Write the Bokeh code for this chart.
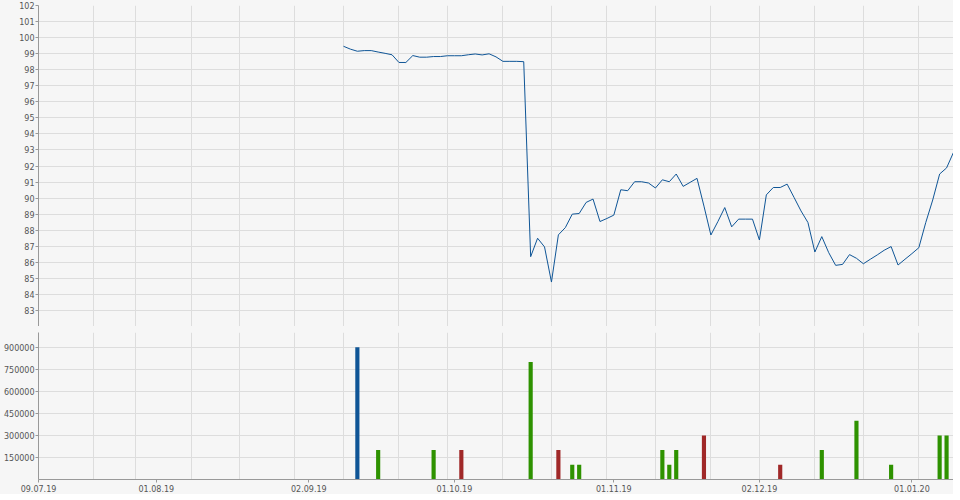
import pandas as pd
from bokeh.plotting import figure
from bokeh.layouts import column
from bokeh.models import Range1d, FixedTicker, BasicTickFormatter, ColumnDataSource
from bokeh.embed import file_html
from bokeh.resources import INLINE

# ---------------- data ----------------
axis_start = "2019-07-09"
axis_end = "2020-01-09"

price_start = "2019-09-09"
price_values = [
    99.46, 99.28, 99.15, 99.19, 99.19, 99.10, 99.02, 98.93, 98.45, 98.45,
    98.88, 98.78, 98.78, 98.82, 98.82, 98.87, 98.87, 98.87, 98.93, 98.98,
    98.92, 98.99, 98.80, 98.52, 98.52, 98.52, 98.50, 86.35, 87.50, 86.96,
    84.77, 87.71, 88.16, 89.00, 89.04, 89.73, 89.94, 88.54, 88.73, 88.94,
    90.52, 90.46, 91.02, 91.02, 90.94, 90.63, 91.14, 91.02, 91.50, 90.73,
    90.98, 91.23, 89.50, 87.70, 88.53, 89.41, 88.21, 88.69, 88.69, 88.69,
    87.39, 90.20, 90.66, 90.66, 90.87, 90.04, 89.20, 88.48, 86.64, 87.60,
    86.60, 85.81, 85.87, 86.48, 86.25, 85.91, 86.19, 86.46, 86.75, 86.98,
    85.83, 86.19, 86.54, 86.91, 88.48, 89.88, 91.50, 91.88, 92.85,
]

vol_dates = ["2019-09-11", "2019-09-16", "2019-09-26", "2019-10-02", "2019-10-16",
             "2019-10-22", "2019-10-24", "2019-10-25", "2019-11-12", "2019-11-13",
             "2019-11-14", "2019-11-20", "2019-12-05", "2019-12-13", "2019-12-20",
             "2019-12-27", "2020-01-07", "2020-01-08"]
vol_values = [900000, 200000, 200000, 200000, 800000,
              200000, 100000, 100000, 200000, 100000,
              200000, 300000, 100000, 200000, 400000,
              100000, 300000, 300000]
vol_kind = ["first", "up", "up", "down", "up",
            "down", "up", "up", "up", "up",
            "up", "down", "down", "up", "up",
            "up", "up", "up"]

label_dates = ["2019-07-09", "2019-08-01", "2019-09-02", "2019-10-01",
               "2019-11-01", "2019-12-02", "2020-01-01"]
label_texts = ["09.07.19", "01.08.19", "02.09.19", "01.10.19",
               "01.11.19", "02.12.19", "01.01.20"]

grid_dates = ["2019-07-19", "2019-07-29", "2019-08-08", "2019-08-19", "2019-08-29",
              "2019-09-09", "2019-09-19", "2019-09-30", "2019-10-10", "2019-10-21",
              "2019-10-31", "2019-11-11", "2019-11-21", "2019-12-02", "2019-12-12",
              "2019-12-23", "2020-01-02"]

price_ticks = list(range(83, 103))
vol_ticks = [150000, 300000, 450000, 600000, 750000, 900000]

# ---------------- helpers ----------------
days = pd.bdate_range(axis_start, axis_end).strftime("%Y-%m-%d").tolist()
pos = {d: i for i, d in enumerate(days)}

price_dates = pd.bdate_range(price_start, periods=len(price_values)).strftime("%Y-%m-%d").tolist()
price_x = [pos[d] for d in price_dates]
vol_x = [pos[d] for d in vol_dates]
kind_color = {"first": "#0f5596", "up": "#2e9200", "down": "#a02828"}
vol_colors = [kind_color[k] for k in vol_kind]

label_pos = [pos[d] for d in label_dates]
grid_pos = [pos[d] for d in grid_dates]

BG = "#f6f6f6"
GRID = "#dddddd"
AXIS = "#999999"
TXT = "#555555"
FONT = "DejaVu Sans"
FS = "8px"
W = 953
LEFT = 36

x_range = Range1d(0, len(days) - 1)


def style_y(ax):
    ax.axis_line_color = AXIS
    ax.major_tick_line_color = AXIS
    ax.minor_tick_line_color = None
    ax.major_tick_in = 0
    ax.major_tick_out = 3
    ax.major_label_standoff = 1
    ax.major_label_text_font = FONT
    ax.major_label_text_font_size = FS
    ax.major_label_text_color = TXT


# ---------------- price panel ----------------
p1 = figure(width=W, height=326, x_range=x_range, y_range=Range1d(82, 102),
            output_backend="svg", toolbar_location=None,
            min_border_left=LEFT, min_border_right=0, min_border_top=5, min_border_bottom=0,
            background_fill_color=BG, border_fill_color=BG)
p1.outline_line_color = None
p1.line(price_x, price_values, line_color="#0f5596", line_width=1)

p1.yaxis.ticker = FixedTicker(ticks=price_ticks)
style_y(p1.yaxis[0])
p1.ygrid.ticker = FixedTicker(ticks=price_ticks)
p1.ygrid.grid_line_color = GRID
p1.xgrid.ticker = FixedTicker(ticks=grid_pos)
p1.xgrid.grid_line_color = GRID

xa1 = p1.xaxis[0]
xa1.ticker = FixedTicker(ticks=[])
xa1.axis_line_color = AXIS
xa1.major_tick_line_color = None
xa1.minor_tick_line_color = None
xa1.major_tick_out = 0
xa1.major_tick_in = 0
xa1.major_label_standoff = 0
xa1.major_label_text_font_size = "0px"

# ---------------- volume panel ----------------
src = ColumnDataSource(dict(x=vol_x, v=vol_values, c=vol_colors))
p2 = figure(width=W, height=168, x_range=x_range, y_range=Range1d(0, 1000000),
            output_backend="svg", toolbar_location=None,
            min_border_left=LEFT, min_border_right=0, min_border_top=6, min_border_bottom=0,
            background_fill_color=BG, border_fill_color=BG)
p2.outline_line_color = None
p2.vbar(x="x", top="v", bottom=0, width=0.6, fill_color="c", line_color=None, source=src)

p2.yaxis.ticker = FixedTicker(ticks=vol_ticks)
p2.yaxis.formatter = BasicTickFormatter(use_scientific=False)
style_y(p2.yaxis[0])
p2.ygrid.ticker = FixedTicker(ticks=vol_ticks)
p2.ygrid.grid_line_color = GRID
p2.xgrid.ticker = FixedTicker(ticks=grid_pos)
p2.xgrid.grid_line_color = GRID

xa2 = p2.xaxis[0]
xa2.ticker = FixedTicker(ticks=label_pos)
xa2.major_label_overrides = {p: t for p, t in zip(label_pos, label_texts)}
xa2.axis_line_color = AXIS
xa2.major_tick_line_color = AXIS
xa2.minor_tick_line_color = None
xa2.major_tick_in = 0
xa2.major_tick_out = 3
xa2.major_label_standoff = 2
xa2.major_label_text_font = FONT
xa2.major_label_text_font_size = FS
xa2.major_label_text_color = TXT

layout = column(p1, p2, spacing=0, background=BG)

open("out.html", "w").write(file_html(layout, INLINE))
